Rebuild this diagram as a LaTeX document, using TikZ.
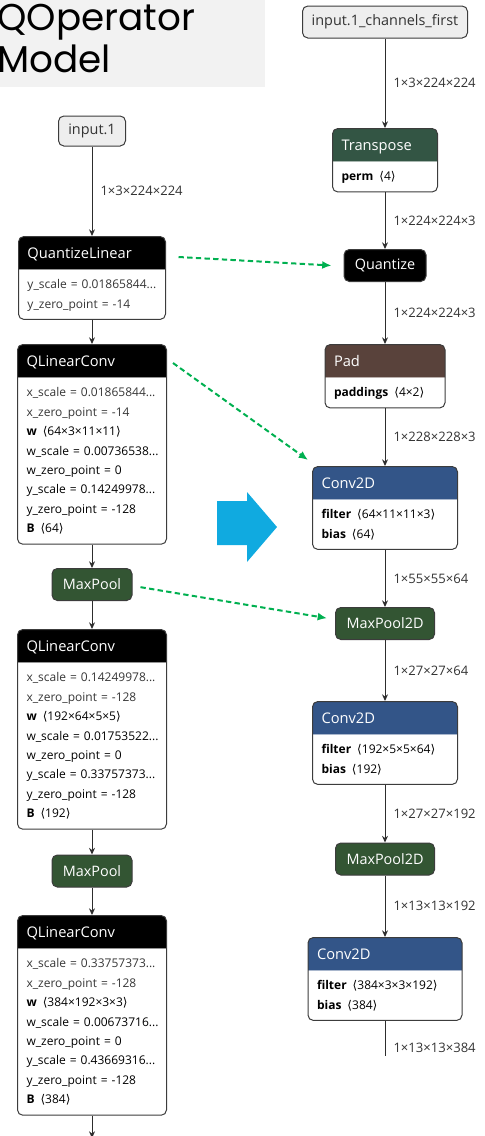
\documentclass[tikz,border=0pt]{standalone}
\usepackage{fontspec}
\setmainfont{Open Sans}
\newfontfamily\titlefont{Poppins}
\newfontfamily\bracketfont{DejaVu Sans}
\usetikzlibrary{arrows.meta,shapes.multipart}

\definecolor{titlebg}{RGB}{242,242,242}
\definecolor{inputgray}{RGB}{238,238,238}
\definecolor{bordergray}{RGB}{60,60,60}
\definecolor{edgegray}{RGB}{45,45,45}
\definecolor{attrgray}{RGB}{55,55,55}
\definecolor{poolgreen}{RGB}{51,85,51}
\definecolor{layerblue}{RGB}{51,85,136}
\definecolor{transgreen}{RGB}{51,85,68}
\definecolor{tensorbrown}{RGB}{89,66,59}
\definecolor{mapgreen}{RGB}{0,176,80}
\definecolor{convcyan}{RGB}{16,170,224}

% header line of an op box, and its list of attributes
\newcommand{\hd}[1]{\rule[-4.3pt]{0pt}{16.5pt}{\fontsize{11}{13}\selectfont\color{white}#1}}
\newcommand{\attrs}[1]{\begin{tabular}{@{}l@{}}#1\end{tabular}}
\newcommand{\nm}[1]{\textcolor{black}{\textbf{#1}}}
\newcommand{\la}{\,{\bracketfont\char"27E8}}
\newcommand{\ra}{{\bracketfont\char"27E9}}

\begin{document}
\begin{tikzpicture}[x=0.75pt, y=-0.75pt,
    op/.style={rectangle split, rectangle split parts=2,
        rectangle split draw splits=false,
        rectangle split part fill={#1,white},
        draw=bordergray, line width=0.75pt, rounded corners=4pt,
        anchor=north, inner xsep=6.75pt, inner ysep=3.75pt, align=left,
        font=\fontsize{9}{14.6}\selectfont, text=attrgray},
    plain/.style={rectangle, draw=bordergray, line width=0.75pt,
        rounded corners=4pt, minimum height=24pt, inner sep=0pt,
        font=\fontsize{10.8}{13}\selectfont, fill=#1, text=white},
    inbox/.style={plain=inputgray, text=black!80},
    arr/.style={-{Stealth[length=5pt,width=4.5pt]}, draw=edgegray,
        line width=0.75pt},
    qarr/.style={-{Latex[length=7pt,width=6pt]}, draw=mapgreen,
        line width=1.5pt, dash pattern=on 4pt off 2.5pt},
    dim/.style={right, inner sep=0pt, xshift=6pt,
        font=\fontsize{9.8}{12}\selectfont, text=black!80},
]
\useasboundingbox (0,0) rectangle (485,1136);

% Title
\fill[titlebg] (0,0) rectangle (265,87);
\node[anchor=north west, inner sep=0pt, align=left,
    font=\titlefont\fontsize{28}{31.5}\selectfont] (ttl) at (-3,4)
    {QOperator\\Model};

% Left column: QOperator model
\node[inbox, minimum width=50.25pt, minimum height=22.5pt] (in1) at (92,131) {input.1};
\node[op=black, text width=96.75pt] (qlin) at (92,236)
    {\hd{QuantizeLinear}\nodepart{two}\attrs{y\_scale = 0.01865844...\\
     y\_zero\_point = -14}};
\node[op=black, text width=98.25pt] (qconv1) at (92,344)
    {\hd{QLinearConv}\nodepart{two}\attrs{x\_scale = 0.01865844...\\
     x\_zero\_point = -14\\ \nm{w} \la64×3×11×11\ra\\
     w\_scale = 0.00736538...\\ w\_zero\_point = 0\\
     y\_scale = 0.14249978...\\ y\_zero\_point = -128\\ \nm{B} \la64\ra}};
\node[plain=poolgreen, minimum width=60pt] (pool1) at (92,584.5) {MaxPool};
\node[op=black, text width=98.25pt] (qconv2) at (92,629)
    {\hd{QLinearConv}\nodepart{two}\attrs{x\_scale = 0.14249978...\\
     x\_zero\_point = -128\\ \nm{w} \la192×64×5×5\ra\\
     w\_scale = 0.01753522...\\ w\_zero\_point = 0\\
     y\_scale = 0.33757373...\\ y\_zero\_point = -128\\ \nm{B} \la192\ra}};
\node[plain=poolgreen, minimum width=60pt] (pool2) at (92,871) {MaxPool};
\node[op=black, text width=98.25pt] (qconv3) at (92,915)
    {\hd{QLinearConv}\nodepart{two}\attrs{x\_scale = 0.33757373...\\
     x\_zero\_point = -128\\ \nm{w} \la384×192×3×3\ra\\
     w\_scale = 0.00673716...\\ w\_zero\_point = 0\\
     y\_scale = 0.43669316...\\ y\_zero\_point = -128\\ \nm{B} \la384\ra}};
\coordinate (outl) at (92,1138);

% Right column: converted model
\node[inbox, minimum width=123.75pt] (in2) at (385,22) {input.1\_channels\_first};
\node[op=transgreen, text width=65.25pt] (trans) at (385,128)
    {\hd{Transpose}\nodepart{two}\attrs{\nm{perm} \la4\ra}};
\node[plain=black, minimum width=61.5pt] (quant) at (385,265.5) {Quantize};
\node[op=tensorbrown, text width=76.5pt] (pad) at (385,344)
    {\hd{Pad}\nodepart{two}\attrs{\nm{paddings} \la4×2\ra}};
\node[op=layerblue, text width=95.25pt] (conv1) at (385,466)
    {\hd{Conv2D}\nodepart{two}\attrs{\nm{filter} \la64×11×11×3\ra\\ \nm{bias} \la64\ra}};
\node[plain=poolgreen, minimum width=74.25pt] (mp1) at (385,623.5) {MaxPool2D};
\node[op=layerblue, text width=95.25pt] (conv2) at (385,701)
    {\hd{Conv2D}\nodepart{two}\attrs{\nm{filter} \la192×5×5×64\ra\\ \nm{bias} \la192\ra}};
\node[plain=poolgreen, minimum width=74.25pt] (mp2) at (385,859) {MaxPool2D};
\node[op=layerblue, text width=102pt] (conv3) at (385,937)
    {\hd{Conv2D}\nodepart{two}\attrs{\nm{filter} \la384×3×3×192\ra\\ \nm{bias} \la384\ra}};
\coordinate (outr) at (385,1056);

% Data flow, left
\draw[arr] (in1) -- node[dim] {1×3×224×224} (qlin);
\draw[arr] (qlin) -- (qconv1);
\draw[arr] (qconv1) -- (pool1);
\draw[arr] (pool1) -- (qconv2);
\draw[arr] (qconv2) -- (pool2);
\draw[arr] (pool2) -- (qconv3);
\draw[arr] (qconv3) -- (outl);

% Data flow, right
\draw[arr] (in2) -- node[dim] {1×3×224×224} (trans);
\draw[arr] (trans) -- node[dim] {1×224×224×3} (quant);
\draw[arr] (quant) -- node[dim] {1×224×224×3} (pad);
\draw[arr] (pad) -- node[dim] {1×228×228×3} (conv1);
\draw[arr] (conv1) -- node[dim] {1×55×55×64} (mp1);
\draw[arr] (mp1) -- node[dim] {1×27×27×64} (conv2);
\draw[arr] (conv2) -- node[dim] {1×27×27×192} (mp2);
\draw[arr] (mp2) -- node[dim] {1×13×13×192} (conv3);
\draw[draw=edgegray, line width=0.75pt] (conv3) -- node[dim, pos=.77] {1×13×13×384} (outr);

% Mapping between the two models
\draw[qarr] ([xshift=9.4pt,yshift=-15.75pt]qlin.north east) -- ([xshift=-9pt]quant.west);
\draw[qarr] ([xshift=4.5pt,yshift=-14.25pt]qconv1.north east) -- ([xshift=-3pt,yshift=4.5pt]conv1.north west);
\draw[qarr] ([xshift=6pt,yshift=-2pt]pool1.east) -- ([xshift=-6pt,yshift=4pt]mp1.west);

% Conversion arrow
\fill[convcyan] (217,501) -- (247,501) -- (247,492) -- (277,527)
    -- (247,562) -- (247,545) -- (217,545) -- cycle;

\end{tikzpicture}
\end{document}
